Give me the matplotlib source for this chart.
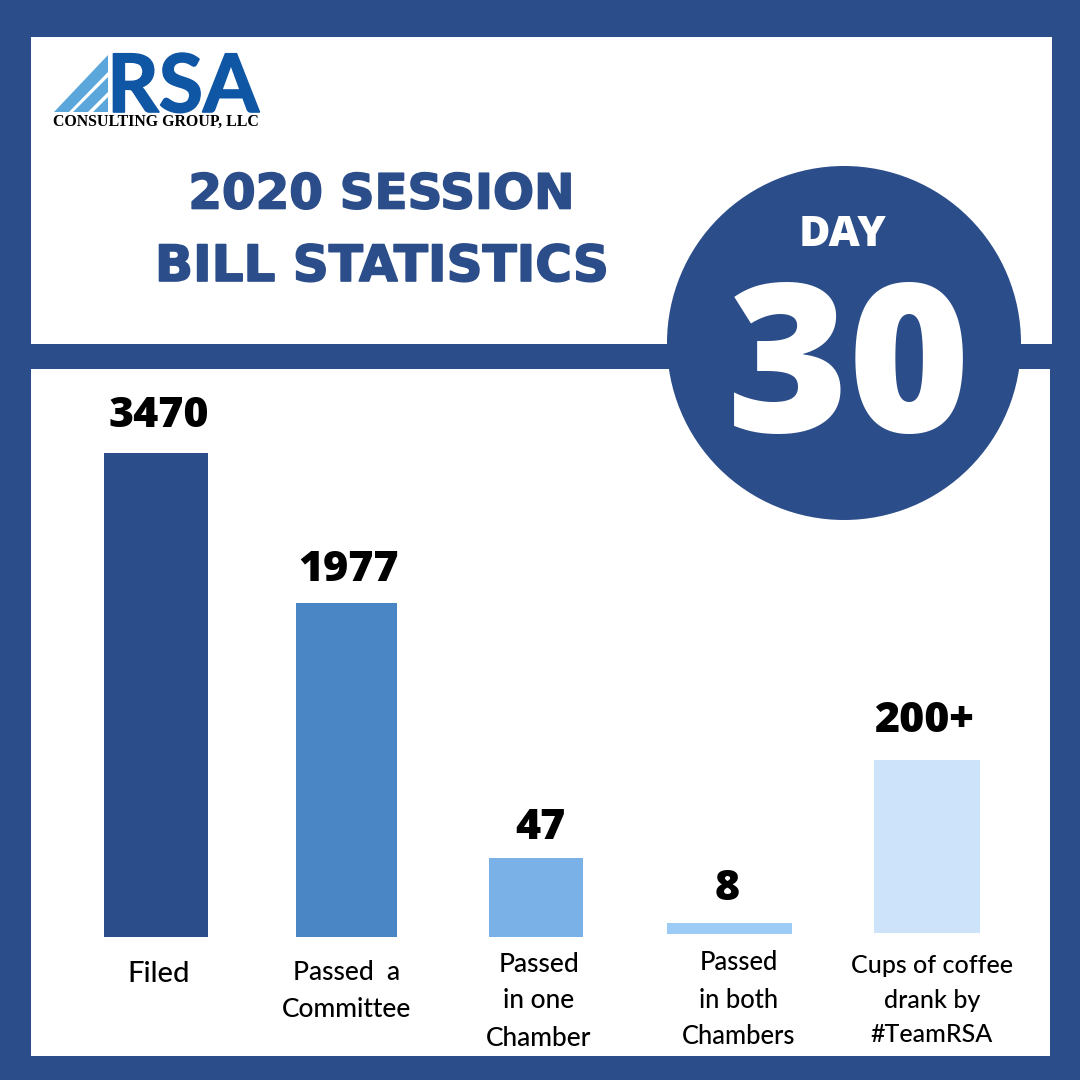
"""2020 session bill statistics, day 30 graphic."""

import matplotlib
matplotlib.use("Agg")
import matplotlib.pyplot as plt
import matplotlib.patheffects as pe
from matplotlib.patches import Circle, Polygon, Rectangle

# Data
categories = ["Filed", "Passed  a\nCommittee", "Passed\nin one\nChamber",
              "Passed\nin both\nChambers", "Cups of coffee\ndrank by\n#TeamRSA"]
value_labels = ["3470", "1977", "47", "8", "200+"]
# the bars are not to scale in the original, so these are the drawn heights
bar_heights = [484, 334, 79, 11, 173]
bar_bottoms = [0, 0, 0, 3, 4]
bar_colors = ["#2B4D89", "#4A86C5", "#7AB1E6", "#9CCBF6", "#CDE3FA"]

title_lines = ["2020 SESSION", "BILL STATISTICS"]

NAVY = "#2B4D89"
SIZE = 1080
BASELINE = 937

fig = plt.figure(figsize=(10.8, 10.8), dpi=100, facecolor=NAVY)

# Background axes in pixel coordinates
bg = fig.add_axes([0, 0, 1, 1])
bg.set_xlim(0, SIZE)
bg.set_ylim(SIZE, 0)
bg.axis("off")

bg.add_patch(Rectangle((31, 37), 1021, 307, fc="white", ec="none"))
bg.add_patch(Rectangle((31, 369), 1019, 687, fc="white", ec="none"))

# Logo
LOGO_BLUE = "#0F56A5"
LOGO_LIGHT = "#5BA6DB"
bg.add_patch(Polygon([(54, 112), (69, 112), (108, 72), (108, 55)], fc=LOGO_LIGHT, ec="none"))
bg.add_patch(Polygon([(73, 112), (88, 112), (108, 92), (108, 77)], fc=LOGO_LIGHT, ec="none"))
bg.add_patch(Polygon([(93, 112), (108, 112), (108, 97)], fc=LOGO_LIGHT, ec="none"))
bg.text(183, 112, "RSA", color=LOGO_BLUE, fontsize=58, fontfamily="Lato", fontweight="bold",
        ha="center", va="baseline",
        path_effects=[pe.withStroke(linewidth=1.2, foreground=LOGO_BLUE)])
bg.text(155.5, 122, "CONSULTING GROUP, LLC", color="black", fontsize=11.4, fontfamily="Liberation Serif",
        fontweight="bold", ha="center", va="center")

# Title
thick = [pe.withStroke(linewidth=1.2, foreground=NAVY)]
bg.text(382, 195, title_lines[0], color=NAVY, fontsize=34.8, fontfamily="DejaVu Sans", fontweight="bold",
        ha="center", va="center", path_effects=thick)
bg.text(382, 267, title_lines[1], color=NAVY, fontsize=36, fontfamily="DejaVu Sans", fontweight="bold",
        ha="center", va="center", path_effects=thick)

# Day badge
bg.add_patch(Circle((844, 343), 177, fc=NAVY, ec="none", zorder=3))
bg.text(843, 235, "DAY", color="white", fontsize=31, fontfamily="Open Sans", fontweight="extra bold",
        ha="center", va="center", zorder=4)
bg.text(849, 378, "30", color="white", fontsize=150, fontfamily="Open Sans", fontweight="extra bold",
        ha="center", va="center", zorder=4)

# Bars
ax = fig.add_axes([0, 0, 1, 1])
ax.patch.set_alpha(0)
ax.set_xlim(0, SIZE)
ax.set_ylim(BASELINE - SIZE, BASELINE)
ax.axis("off")

centers = [156, 346.5, 536, 729.5, 927]
widths = [104, 101, 94, 125, 106]
ax.bar(centers, bar_heights, width=widths, bottom=bar_bottoms, color=bar_colors)

# Value labels, then category labels
label_x = [159, 349, 540, 727, 924]
label_gap = [37, 33, 30, 34, 39]
for i, text in enumerate(value_labels):
    ax.text(label_x[i], bar_bottoms[i] + bar_heights[i] + label_gap[i], text, color="black", fontsize=31,
            fontfamily="Open Sans", fontweight="extra bold", ha="center", va="center")

cat_x = [159, 347, 539, 739, 932]
cat_y = [974, 991, 1001, 1000, 1000]
cat_size = [21, 19, 19, 18.4, 18]
for x, y, size, text in zip(cat_x, cat_y, cat_size, categories):
    bg.text(x, y, text, color="black", fontsize=size, fontfamily="Lato", fontweight="medium",
            ha="center", va="center", linespacing=1.6)

fig.savefig("out.png", dpi=100, facecolor=NAVY)
